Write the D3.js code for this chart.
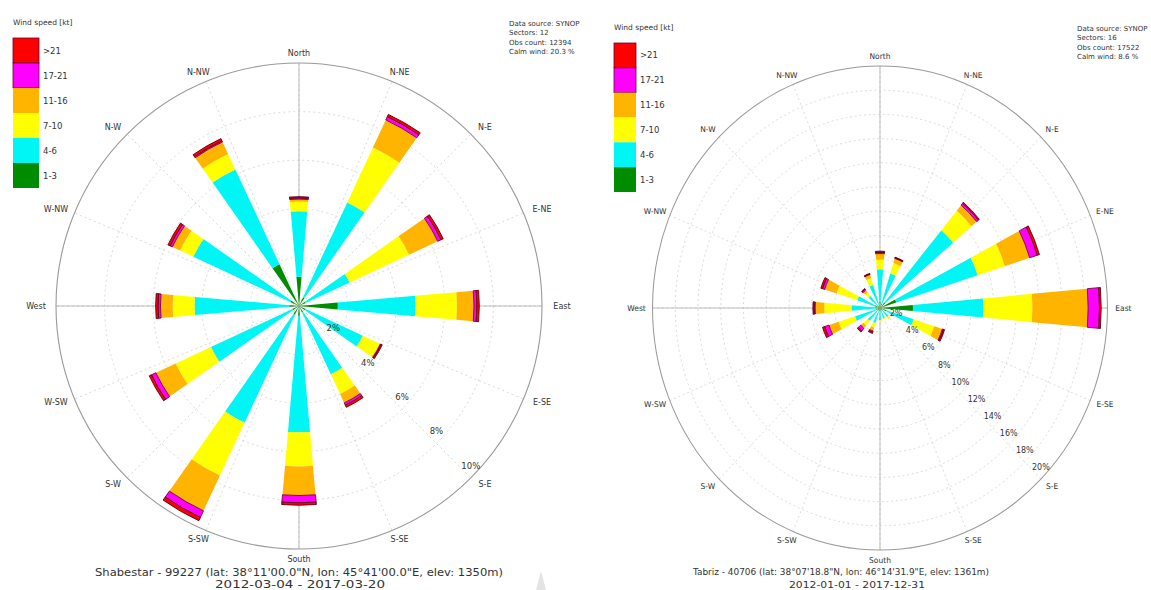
<!DOCTYPE html>
<html>
<head>
<meta charset="utf-8">
<script src="https://cdn.jsdelivr.net/npm/d3@7"></script>
<style>
  body { margin: 0; background: #fff; }
  svg { display: block; }
  text { font-family: "DejaVu Sans", sans-serif; fill: #333; }
</style>
</head>
<body>
<svg id="chart" width="1151" height="590"></svg>
<script>
// Wind speed classes (knots), lowest first, and their colours
const speedClasses = ["1-3", "4-6", "7-10", "11-16", "17-21", ">21"];
const speedColors  = ["#008c00", "#00f5f5", "#ffff00", "#ffb400", "#ff00ff", "#ff0000"];

// Compass labels around each rose, every 22.5 degrees starting at north
const compassLabels = ["North", "N-NE", "N-E", "E-NE", "East", "E-SE", "S-E", "S-SE",
                       "South", "S-SW", "S-W", "W-SW", "West", "W-NW", "N-W", "N-NW"];

// Shabestar (12 sectors): frequency in % of observations for each speed class
const shabDirs  = [0, 30, 60, 90, 120, 150, 180, 210, 240, 270, 300, 330];
const shab_1_3  = [1.2, 0.4, 0.3, 1.6, 0.3, 0.3, 0.4, 0.4, 0.3, 0.4, 0.4, 1.9];
const shab_4_6  = [2.7, 4.3, 2.0, 3.2, 2.6, 2.8, 4.8, 4.9, 3.7, 3.9, 4.4, 4.3];
const shab_7_10 = [0.4, 2.5, 2.7, 1.7, 0.75, 0.9, 1.4, 2.4, 1.6, 0.9, 0.6, 0.7];
const shab_11_16 = [0.1, 1.25, 1.3, 0.7, 0.05, 0.4, 1.2, 1.6, 0.9, 0.5, 0.35, 0.55];
const shab_17_21 = [0.05, 0.15, 0.15, 0.12, 0.03, 0.1, 0.3, 0.3, 0.2, 0.1, 0.1, 0.05];
const shab_gt21  = [0.05, 0.1, 0.1, 0.1, 0.05, 0.1, 0.1, 0.15, 0.1, 0.1, 0.1, 0.1];
const shabRings  = ["2%", "4%", "6%", "8%", "10%"];
const shabInfo   = ["Data source: SYNOP", "Sectors: 12", "Obs count: 12394", "Calm wind: 20.3 %"];
const shabTitle  = ["Shabestar - 99227 (lat: 38\u00b011'00.0\"N, lon: 45\u00b041'00.0\"E, elev: 1350m)",
                    "2012-03-04 - 2017-03-20"];

// Tabriz (16 sectors): frequency in % of observations for each speed class
const tabDirs   = [0, 22.5, 45, 67.5, 90, 112.5, 135, 157.5, 180, 202.5, 225, 247.5, 270, 292.5, 315, 337.5];
const tab_1_3   = [0.5, 0.4, 0.6, 1.5, 2.9, 0.6, 0.3, 0.3, 0.3, 0.3, 0.3, 0.4, 0.4, 0.5, 0.3, 0.3];
const tab_4_6   = [2.7, 2.6, 7.8, 7.5, 6.2, 2.5, 0.7, 0.6, 0.7, 1.0, 1.1, 1.9, 2.1, 1.6, 1.0, 1.7];
const tab_7_10  = [0.8, 0.9, 2.1, 2.5, 4.3, 1.9, 0.15, 0.1, 0.1, 0.4, 0.5, 1.5, 2.4, 1.9, 0.4, 0.6];
const tab_11_16 = [0.5, 0.4, 0.6, 2.3, 4.9, 0.75, 0.05, 0.0, 0.0, 0.3, 0.3, 0.9, 0.8, 1.1, 0.25, 0.3];
const tab_17_21 = [0.1, 0.05, 0.2, 0.7, 1.0, 0.1, 0.0, 0.0, 0.0, 0.1, 0.3, 0.4, 0.1, 0.2, 0.1, 0.05];
const tab_gt21  = [0.1, 0.05, 0.1, 0.2, 0.15, 0.1, 0.0, 0.0, 0.0, 0.1, 0.1, 0.2, 0.1, 0.15, 0.05, 0.05];
const tabRings  = ["2%", "4%", "6%", "8%", "10%", "12%", "14%", "16%", "18%", "20%"];
const tabInfo   = ["Data source: SYNOP", "Sectors: 16", "Obs count: 17522", "Calm wind: 8.6 %"];
const tabTitle  = ["Tabriz - 40706 (lat: 38\u00b007'18.8\"N, lon: 46\u00b014'31.9\"E, elev: 1361m)",
                   "2012-01-01 - 2017-12-31"];

const svg = d3.select("#chart");
const rad = deg => deg * Math.PI / 180;

function buildRows(dirs, classArrays) {
  return dirs.map((dir, i) => {
    const row = { dir };
    speedClasses.forEach((k, j) => { row[k] = classArrays[j][i]; });
    return row;
  });
}

function drawRose(cfg) {
  const g = svg.append("g")
    .attr("transform", `translate(${cfg.cx},${cfg.cy}) scale(${cfg.sx},1)`);

  const maxPct = parseFloat(cfg.rings[cfg.rings.length - 1]);
  const r = d3.scaleLinear().domain([0, maxPct]).range([0, cfg.radius]);
  const ringVals = cfg.rings.map(s => parseFloat(s));

  // dotted spokes every 22.5 degrees
  g.selectAll("line.spoke").data(d3.range(16).map(i => i * 22.5)).join("line")
    .attr("class", "spoke")
    .attr("x1", 0).attr("y1", 0)
    .attr("x2", d => r(maxPct) * Math.sin(rad(d)))
    .attr("y2", d => -r(maxPct) * Math.cos(rad(d)))
    .attr("stroke", "#cfcfcf").attr("stroke-width", 0.8)
    .attr("stroke-dasharray", "2,3");

  // dotted percentage rings
  g.selectAll("circle.ring").data(ringVals.slice(0, -1)).join("circle")
    .attr("class", "ring")
    .attr("r", d => r(d))
    .attr("fill", "none").attr("stroke", "#cfcfcf").attr("stroke-width", 0.8)
    .attr("stroke-dasharray", "2,3");

  // solid main axes
  [[0, -1, 0, 1], [-1, 0, 1, 0]].forEach(a => {
    g.append("line")
      .attr("x1", a[0] * r(maxPct)).attr("y1", a[1] * r(maxPct))
      .attr("x2", a[2] * r(maxPct)).attr("y2", a[3] * r(maxPct))
      .attr("stroke", "#b4b4b4").attr("stroke-width", 0.9);
  });

  // outer circle
  g.append("circle").attr("r", r(maxPct))
    .attr("fill", "none").attr("stroke", "#9a9a9a").attr("stroke-width", 1.1);

  // stacked wedges
  const rows = buildRows(cfg.dirs, cfg.classes);
  const series = d3.stack().keys(speedClasses)(rows);
  const half = cfg.wedge / 2;
  const arc = d3.arc()
    .innerRadius(d => r(d[0]))
    .outerRadius(d => r(d[1]))
    .startAngle(d => rad(d.data.dir - half))
    .endAngle(d => rad(d.data.dir + half));

  g.selectAll("g.layer").data(series).join("g")
    .attr("class", "layer")
    .attr("fill", (d, i) => speedColors[i])
    .attr("stroke", (d, i) => i === 5 ? "#5a0010" : (i === 4 ? "#7a0040" : "none"))
    .attr("stroke-width", (d, i) => i >= 4 ? 0.9 : 0)
    .selectAll("path").data(d => d.filter(s => s[1] - s[0] > 0)).join("path")
    .attr("d", arc);

  // percentage labels along the south-east diagonal
  g.selectAll("text.pct").data(cfg.rings).join("text")
    .attr("class", "pct")
    .attr("x", d => r(parseFloat(d)) * Math.sin(rad(135)))
    .attr("y", d => -r(parseFloat(d)) * Math.cos(rad(135)) - 12)
    .attr("text-anchor", "middle").attr("dominant-baseline", "central")
    .attr("font-size", 8.5)
    .text(d => d);

  // compass labels
  g.selectAll("text.dir").data(compassLabels).join("text")
    .attr("class", "dir")
    .attr("x", (d, i) => (r(maxPct) + cfg.gapX) * Math.sin(rad(i * 22.5)))
    .attr("y", (d, i) => -(r(maxPct) + cfg.gapY) * Math.cos(rad(i * 22.5)))
    .attr("text-anchor", "middle").attr("dominant-baseline", "central")
    .attr("font-size", 8)
    .text(d => d);
}

function drawLegend(cfg) {
  const g = svg.append("g").attr("transform", `translate(${cfg.x},${cfg.y})`);
  g.append("text").attr("x", 0).attr("y", -13).attr("font-size", 7.5).text("Wind speed [kt]");
  const order = speedClasses.slice().reverse();
  const cols = speedColors.slice().reverse();
  const y = d3.scaleBand().domain(order).range([0, cfg.h]);
  g.selectAll("rect").data(order).join("rect")
    .attr("x", 0).attr("y", d => y(d))
    .attr("width", cfg.w).attr("height", y.bandwidth())
    .attr("fill", (d, i) => cols[i])
    .attr("stroke", (d, i) => i < 2 ? "#6a0030" : "none").attr("stroke-width", 0.8);
  g.selectAll("text.lab").data(order).join("text")
    .attr("class", "lab")
    .attr("x", cfg.w + 4).attr("y", d => y(d) + y.bandwidth() / 2)
    .attr("dominant-baseline", "central").attr("font-size", 8.5)
    .text(d => d);
}

function drawInfo(lines, x, y) {
  svg.append("g").selectAll("text").data(lines).join("text")
    .attr("x", x).attr("y", (d, i) => y + i * 9.3)
    .attr("font-size", 7).text(d => d);
}

function drawTitle(lines, cfg) {
  svg.append("g").selectAll("text").data(lines).join("text")
    .attr("x", (d, i) => cfg.x[i]).attr("y", (d, i) => cfg.y[i])
    .attr("text-anchor", "middle").attr("font-size", cfg.size)
    .attr("textLength", (d, i) => cfg.len[i]).attr("lengthAdjust", "spacingAndGlyphs")
    .text(d => d);
}

// Shabestar rose
drawRose({
  cx: 299, cy: 306, sx: 1, radius: 243, wedge: 10, gapX: 20, gapY: 10,
  dirs: shabDirs, rings: shabRings,
  classes: [shab_1_3, shab_4_6, shab_7_10, shab_11_16, shab_17_21, shab_gt21]
});
drawLegend({ x: 13, y: 38, w: 26, h: 150 });
drawInfo(shabInfo, 509, 26);
drawTitle(shabTitle, { x: [299, 300], y: [576, 588], len: [408, 170], size: 11 });

// Tabriz rose
drawRose({
  cx: 880, cy: 308, sx: 0.94, radius: 242, wedge: 10, gapX: 17, gapY: 10,
  dirs: tabDirs, rings: tabRings,
  classes: [tab_1_3, tab_4_6, tab_7_10, tab_11_16, tab_17_21, tab_gt21]
});
drawLegend({ x: 614, y: 43, w: 22, h: 149 });
drawInfo(tabInfo, 1077, 31);
drawTitle(tabTitle, { x: [841, 857], y: [575, 588], len: [296, 136], size: 9.5 });

// faint marker below the left caption
svg.append("path")
  .attr("d", "M536,590 L541,571 L546,590 Z")
  .attr("fill", "#e4e4e4");
</script>
</body>
</html>
